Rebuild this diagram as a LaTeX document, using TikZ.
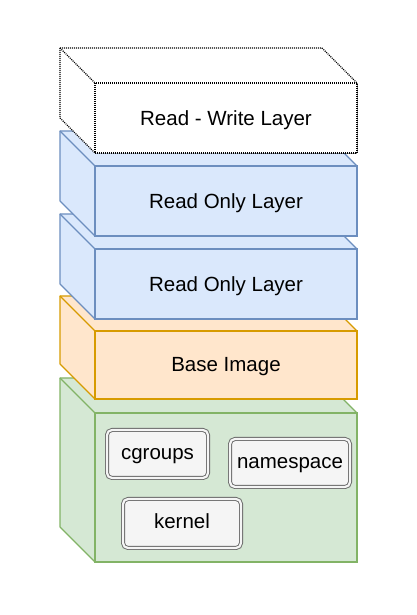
\documentclass[tikz,border=0pt]{standalone}
\usepackage{fontspec}
\setmainfont{Liberation Sans}
\usepackage{xcolor}
\usetikzlibrary{positioning, calc}
\definecolor{roFill}{HTML}{DAE8FC}
\definecolor{roLine}{HTML}{6C8EBF}
\definecolor{baseFill}{HTML}{FFE6CC}
\definecolor{baseLine}{HTML}{D79B00}
\definecolor{kernFill}{HTML}{D5E8D4}
\definecolor{kernLine}{HTML}{82B366}
\definecolor{partFill}{HTML}{F5F5F5}
\definecolor{partLine}{HTML}{666666}
\tikzset{
    face/.style={rectangle, draw, outer sep=0pt, minimum width=262pt, minimum height=70pt, line width=1.1pt, font=\fontsize{20.5}{24}\selectfont},
    rwface/.style={face, fill=white, draw=black, dash pattern=on 1pt off 1pt},
    roface/.style={face, fill=roFill, draw=roLine},
    baseface/.style={face, fill=baseFill, draw=baseLine, minimum height=68pt},
    kernface/.style={face, fill=kernFill, draw=kernLine, minimum height=149pt},
    facetext/.style={font=\fontsize{20.5}{24}\selectfont, yshift=-2pt},
    part/.style={rectangle, rounded corners=5pt, draw=partLine, double=partFill, double distance=2.2pt, line width=0.9pt, fill=partFill, font=\fontsize{20.5}{24}\selectfont, inner sep=0pt, text height=15pt, text depth=4pt}
}
\newcommand{\sidefaces}[2]{%
    \draw[#2, line width=1.1pt, line join=round] ($(#1.north west)+(-35,35)$) -- ($(#1.north east)+(-35,35)$) -- (#1.north east) -- (#1.south east) -- (#1.south west) -- ($(#1.south west)+(-35,35)$) -- cycle;
    \draw[#2, fill=none, line width=1.1pt] ($(#1.north west)+(-35,35)$) -- (#1.north west);
}
\begin{document}
\begin{tikzpicture}[x=1pt, y=1pt]
    \useasboundingbox (0,0) rectangle (417,615);

    % bottom layer with the kernel parts
    \node[kernface] (kern) at (226,127.5) {};
    \sidefaces{kern}{fill=kernFill, draw=kernLine}
    \node[kernface] at (kern) {};
    \node[part, minimum width=101pt, minimum height=48pt] (cgroups) at (157.5,161) {cgroups};
    \node[part, minimum width=120pt, minimum height=48pt] (namespace) at (290,152) {namespace};
    \node[part, minimum width=118pt, minimum height=49pt] (kernel) at (182,91.5) {kernel};

    % image layers
    \node[baseface] (base) at (226,250) {};
    \sidefaces{base}{fill=baseFill, draw=baseLine}
    \node[baseface] at (base) {};
    \node[facetext] (baseText) at (base) {Base Image};

    \node[roface] (ro2) at (226,331) {};
    \sidefaces{ro2}{fill=roFill, draw=roLine}
    \node[roface] at (ro2) {};
    \node[facetext] (ro2Text) at (ro2) {Read Only Layer};

    \node[roface] (ro1) at (226,414) {};
    \sidefaces{ro1}{fill=roFill, draw=roLine}
    \node[roface] at (ro1) {};
    \node[facetext] (ro1Text) at (ro1) {Read Only Layer};

    % container layer
    \node[rwface] (rw) at (226,497) {};
    \sidefaces{rw}{fill=white, draw=black, dash pattern=on 1pt off 1pt}
    \node[rwface] at (rw) {};
    \node[facetext] (rwText) at (rw) {Read - Write Layer};
\end{tikzpicture}
\end{document}
